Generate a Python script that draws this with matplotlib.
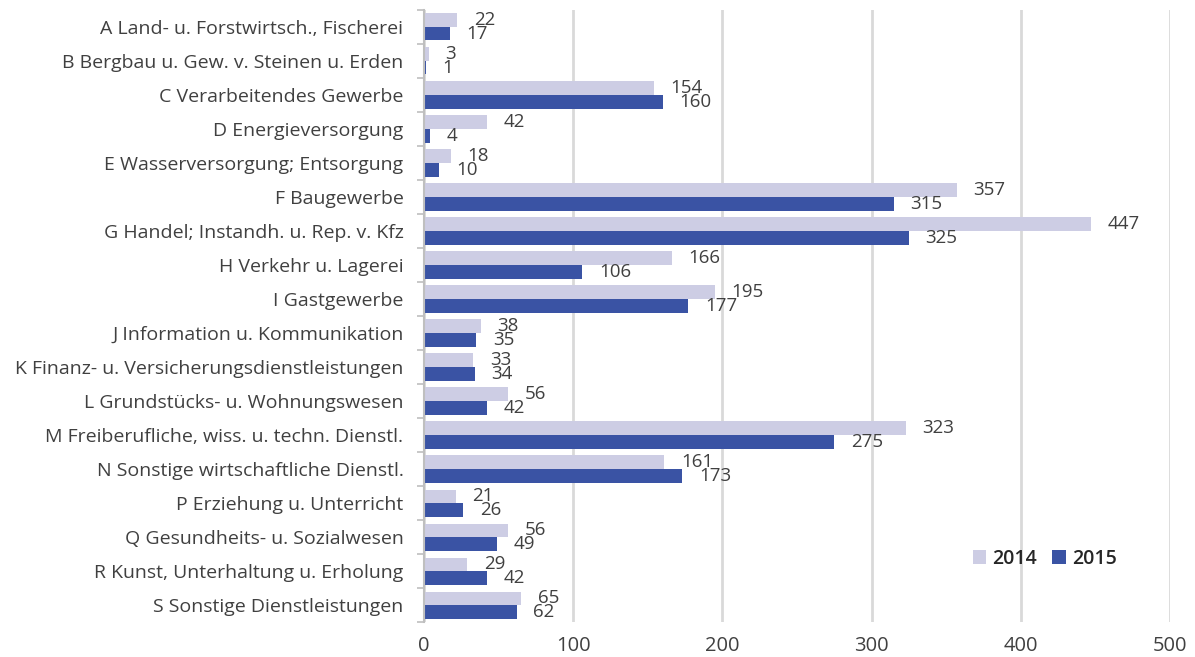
import matplotlib
matplotlib.use('Agg')
import matplotlib.pyplot as plt
import numpy as np

plt.rcParams['font.family'] = ['Open Sans', 'DejaVu Sans']

categories = [
    'A Land- u. Forstwirtsch., Fischerei',
    'B Bergbau u. Gew. v. Steinen u. Erden',
    'C Verarbeitendes Gewerbe',
    'D Energieversorgung',
    'E Wasserversorgung; Entsorgung',
    'F Baugewerbe',
    'G Handel; Instandh. u. Rep. v. Kfz',
    'H Verkehr u. Lagerei',
    'I Gastgewerbe',
    'J Information u. Kommunikation',
    'K Finanz- u. Versicherungsdienstleistungen',
    'L Grundstücks- u. Wohnungswesen',
    'M Freiberufliche, wiss. u. techn. Dienstl.',
    'N Sonstige wirtschaftliche Dienstl.',
    'P Erziehung u. Unterricht',
    'Q Gesundheits- u. Sozialwesen',
    'R Kunst, Unterhaltung u. Erholung',
    'S Sonstige Dienstleistungen',
]
v2014 = [22, 3, 154, 42, 18, 357, 447, 166, 195, 38, 33, 56, 323, 161, 21, 56, 29, 65]
v2015 = [17, 1, 160, 4, 10, 315, 325, 106, 177, 35, 34, 42, 275, 173, 26, 49, 42, 62]

c2014 = '#cdcde4'
c2015 = '#3a53a4'
txt = '#404040'

fig = plt.figure(figsize=(11.95, 6.57), dpi=100)
ax = fig.add_axes([0.355, 0.053, 0.624, 0.932])

y = np.arange(len(categories))
h = 0.4
b1 = ax.barh(y - h / 2, v2014, height=h, color=c2014, label='2014')
b2 = ax.barh(y + h / 2, v2015, height=h, color=c2015, label='2015')

for bars, vals in ((b1, v2014), (b2, v2015)):
    for bar, v in zip(bars, vals):
        ax.annotate(str(v), (bar.get_width(), bar.get_y() + bar.get_height() / 2),
                    xytext=(12, 0), textcoords='offset points',
                    ha='left', va='center', fontsize=13.5, color=txt)

ax.set_ylim(len(categories) - 0.5, -0.5)
ax.set_xlim(0, 500)
ax.set_xticks(np.arange(0, 501, 100))
ax.set_yticks(y)
ax.set_yticklabels(categories)
ax.set_yticks(np.arange(-0.5, len(categories), 1), minor=True)
ax.tick_params(axis='y', which='major', length=0, pad=15, labelsize=14, labelcolor=txt)
ax.tick_params(axis='y', which='minor', length=5, color='#bfbfbf', width=1.2)
ax.tick_params(axis='x', length=0, pad=10, labelsize=14.5, labelcolor=txt)

ax.grid(axis='x', color='#d9d9d9', linewidth=2)
ax.set_axisbelow(True)
for s in ('top', 'right', 'bottom'):
    ax.spines[s].set_visible(False)
ax.spines['left'].set_color('#bfbfbf')
ax.spines['left'].set_linewidth(1.5)

ax.legend(loc='center left', bbox_to_anchor=(0.725, 0.103), ncol=2, frameon=False,
          prop={'size': 14, 'weight': 'semibold'}, handlelength=0.7, handleheight=0.7,
          handletextpad=0.3, columnspacing=0.8, labelcolor='#262626', borderaxespad=0)

fig.savefig('out.png', dpi=100)
